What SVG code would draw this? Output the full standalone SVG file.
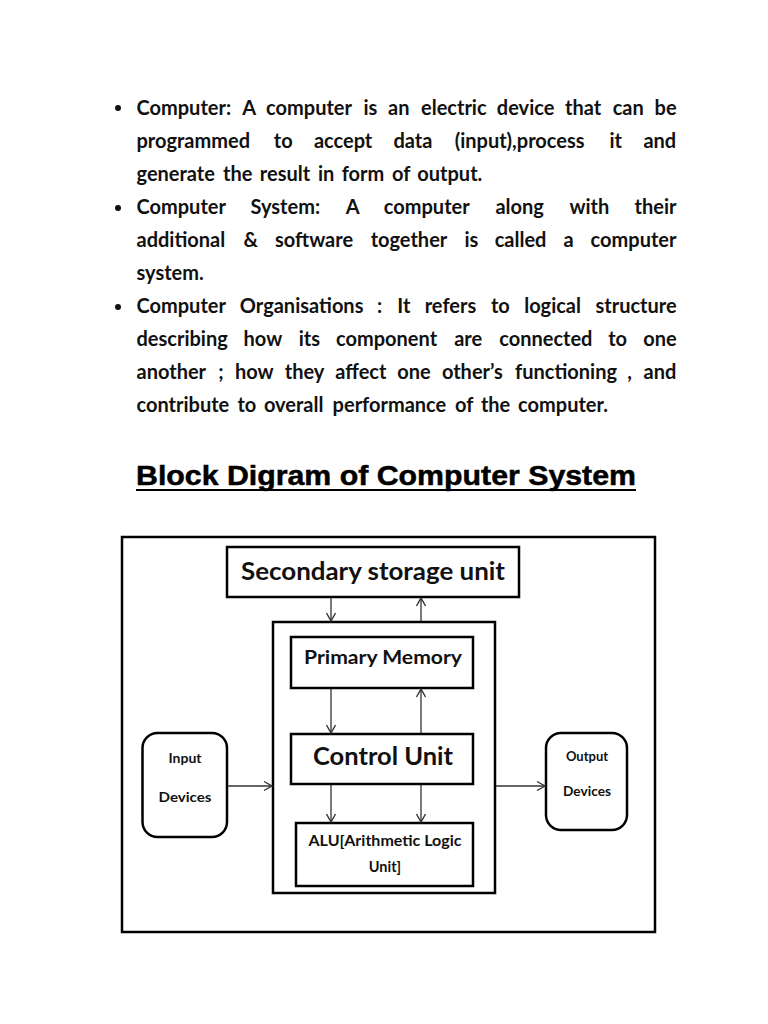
<svg xmlns="http://www.w3.org/2000/svg" width="768" height="1024" viewBox="0 0 768 1024">
<style>
.body{font-family:"Lato","Liberation Sans",sans-serif;font-weight:bold;font-size:20px;fill:#111}
.box{fill:#fff;stroke:#000;stroke-width:2.5}
.lbl{font-family:"Lato","Liberation Sans",sans-serif;font-weight:bold;fill:#111;text-anchor:middle}
.conn{stroke:#333;stroke-width:1.3;fill:none;marker-end:url(#arr)}
.title{font-family:"Liberation Sans",Arial,sans-serif;font-weight:bold;font-size:28px;fill:#000;stroke:#000;stroke-width:0.5}
</style>
<defs>
<marker id="arr" markerUnits="userSpaceOnUse" viewBox="-10 -6 12 12" refX="0" refY="0" markerWidth="12" markerHeight="12" orient="auto">
<path d="M-8,-4.5 L0,0 L-8,4.5" fill="none" stroke="#333" stroke-width="1.4"/>
</marker>
</defs>
<rect width="768" height="1024" fill="#fff"/>

<g id="bullets" fill="#111">
<circle cx="118" cy="108" r="3"/>
<circle cx="118" cy="208" r="3"/>
<circle cx="118" cy="307" r="3"/>
</g>

<g id="text-body" class="body">
<text y="115"><tspan x="136.5">Computer:</tspan><tspan x="242.2">A</tspan><tspan x="266.1">computer</tspan><tspan x="363.5">is</tspan><tspan x="388.1">an</tspan><tspan x="421">electric</tspan><tspan x="496.8">device</tspan><tspan x="565">that</tspan><tspan x="612.7">can</tspan><tspan x="654.6">be</tspan></text>
<text y="148"><tspan x="136.5">programmed</tspan><tspan x="273.8">to</tspan><tspan x="313.9">accept</tspan><tspan x="393.4">data</tspan><tspan x="454.7">(input),process</tspan><tspan x="609.5">it</tspan><tspan x="643.4">and</tspan></text>
<text y="181"><tspan x="136.5">generate</tspan><tspan x="223.1">the</tspan><tspan x="259.8">result</tspan><tspan x="317.9">in</tspan><tspan x="341.7">form</tspan><tspan x="392">of</tspan><tspan x="417.3">output.</tspan></text>
<text y="214"><tspan x="136.5">Computer</tspan><tspan x="250.5">System:</tspan><tspan x="345.8">A</tspan><tspan x="383.8">computer</tspan><tspan x="495.4">along</tspan><tspan x="569.4">with</tspan><tspan x="634.5">their</tspan></text>
<text y="247"><tspan x="136.5">additional</tspan><tspan x="243.4">&amp;</tspan><tspan x="275">software</tspan><tspan x="370.7">together</tspan><tspan x="464.4">is</tspan><tspan x="494.7">called</tspan><tspan x="563.5">a</tspan><tspan x="590.6">computer</tspan></text>
<text x="136.5" y="280">system.</text>
<text y="313"><tspan x="136.5">Computer</tspan><tspan x="239.8">Organisations</tspan><tspan x="377.1">:</tspan><tspan x="397.3">It</tspan><tspan x="424.7">refers</tspan><tspan x="491">to</tspan><tspan x="524.2">logical</tspan><tspan x="595.5">structure</tspan></text>
<text y="346"><tspan x="136.5">describing</tspan><tspan x="243.6">how</tspan><tspan x="298.7">its</tspan><tspan x="336">component</tspan><tspan x="454.2">are</tspan><tspan x="499.2">connected</tspan><tspan x="608.2">to</tspan><tspan x="643.2">one</tspan></text>
<text y="379"><tspan x="136.5">another</tspan><tspan x="218.2">;</tspan><tspan x="234.9">how</tspan><tspan x="284.7">they</tspan><tspan x="335.3">affect</tspan><tspan x="397.3">one</tspan><tspan x="441.9">other’s</tspan><tspan x="515.1">functioning</tspan><tspan x="627.2">,</tspan><tspan x="643.5">and</tspan></text>
<text y="412"><tspan x="136.5">contribute</tspan><tspan x="237.5">to</tspan><tspan x="263.9">overall</tspan><tspan x="332.6">performance</tspan><tspan x="455.1">of</tspan><tspan x="480.9">the</tspan><tspan x="518.1">computer.</tspan></text>
</g>

<g id="title">
<text class="title" x="136" y="485" textLength="500" lengthAdjust="spacingAndGlyphs">Block Digram of Computer System</text>
<rect x="136" y="489" width="500" height="2" fill="#000"/>
</g>

<g id="frame">
<rect x="122" y="537" width="533" height="395" fill="none" stroke="#000" stroke-width="2.5"/>
</g>

<g id="secondary-storage">
<rect class="box" x="227" y="547" width="292" height="50"/>
<text class="lbl" x="373" y="580" font-size="25" textLength="264" lengthAdjust="spacingAndGlyphs">Secondary storage unit</text>
</g>

<g id="cpu">
<rect class="box" x="273" y="622" width="222" height="271"/>
</g>

<g id="primary-memory">
<rect class="box" x="291" y="637" width="182" height="51"/>
<text class="lbl" x="383" y="664" font-size="19.5" textLength="158" lengthAdjust="spacingAndGlyphs">Primary Memory</text>
</g>

<g id="control-unit">
<rect class="box" x="291" y="734" width="182" height="50"/>
<text class="lbl" x="383" y="765" font-size="25" textLength="140" lengthAdjust="spacingAndGlyphs">Control Unit</text>
</g>

<g id="alu">
<rect class="box" x="296" y="823" width="177" height="63"/>
<text class="lbl" x="385" y="846" font-size="14.5" textLength="153" lengthAdjust="spacingAndGlyphs">ALU[Arithmetic Logic</text>
<text class="lbl" x="385" y="872" font-size="14.5">Unit]</text>
</g>

<g id="input-devices">
<rect class="box" x="142.5" y="733" width="84.5" height="104" rx="15" ry="15"/>
<text class="lbl" x="185" y="763" font-size="14">Input</text>
<text class="lbl" x="185" y="802" font-size="14" textLength="53" lengthAdjust="spacingAndGlyphs">Devices</text>
</g>

<g id="output-devices">
<rect class="box" x="546" y="733" width="81" height="97" rx="15" ry="15"/>
<text class="lbl" x="587" y="761" font-size="13">Output</text>
<text class="lbl" x="587" y="796" font-size="13" textLength="48" lengthAdjust="spacingAndGlyphs">Devices</text>
</g>

<g id="connectors">
<line class="conn" x1="331" y1="598" x2="331" y2="621"/>
<line class="conn" x1="421" y1="621" x2="421" y2="598"/>
<line class="conn" x1="331" y1="689" x2="331" y2="733"/>
<line class="conn" x1="421" y1="733" x2="421" y2="689"/>
<line class="conn" x1="331" y1="785" x2="331" y2="822"/>
<line class="conn" x1="421" y1="785" x2="421" y2="822"/>
<line class="conn" x1="228" y1="786" x2="272" y2="786"/>
<line class="conn" x1="496" y1="786" x2="545" y2="786"/>
</g>
</svg>
